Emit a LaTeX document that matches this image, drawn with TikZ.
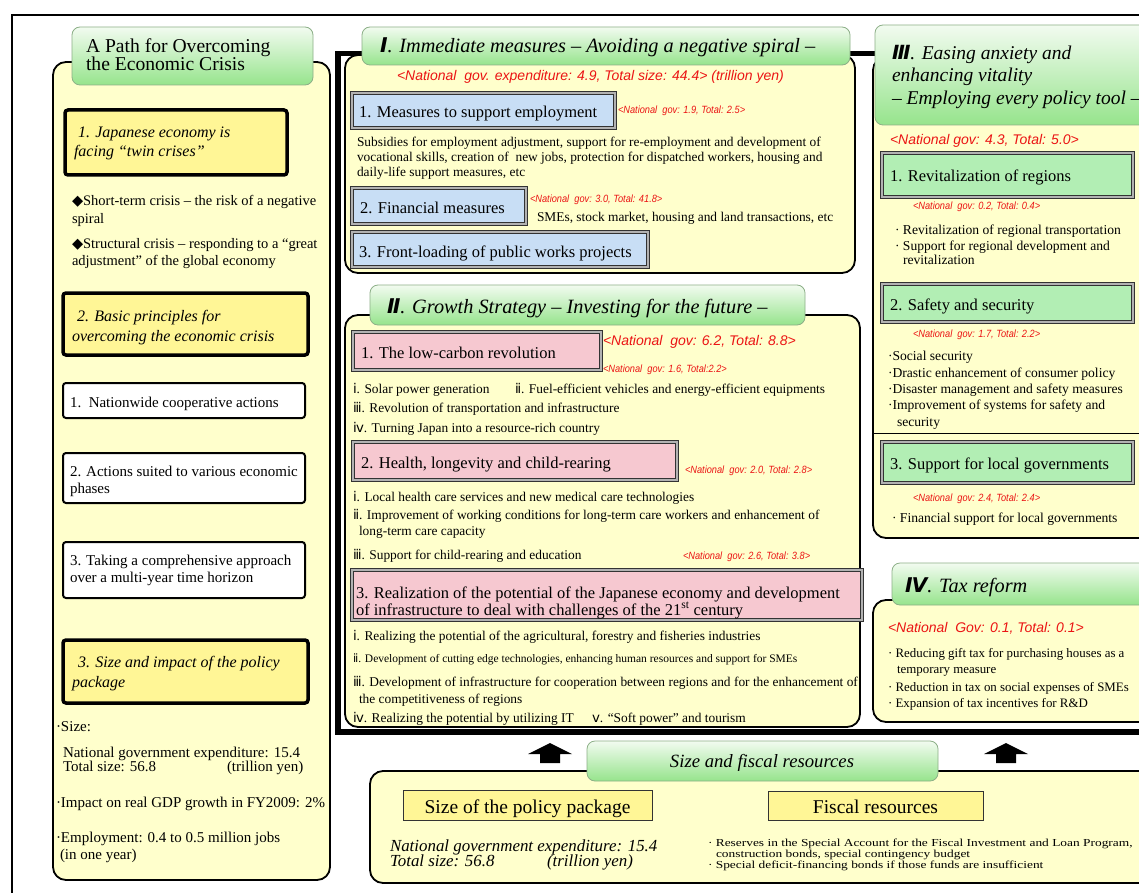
\documentclass[tikz,border=0pt]{standalone}
\usepackage{fontspec}
\usepackage{graphicx}
\setmainfont{Liberation Serif}
\newfontfamily\redfont{Liberation Sans}
\newfontfamily\djv{DejaVu Sans}
\newcommand\rsm[1]{\scalebox{0.88}[1]{#1}}
\newcommand\sqz[1]{\scalebox{1}[0.8]{#1}}
\newcommand\rmn[1]{{\djv #1}}
\newcommand\tnum[1]{{\djv\bfseries\itshape #1}}
\definecolor{redc}{RGB}{235,20,20}
\definecolor{panelc}{RGB}{255,255,204}
\definecolor{tabtop}{RGB}{242,251,240}
\definecolor{tabbot}{RGB}{150,228,140}
\definecolor{tabline}{RGB}{140,175,135}
\definecolor{yboxc}{RGB}{255,246,150}
\definecolor{bluec}{RGB}{200,222,245}
\definecolor{pinkc}{RGB}{246,200,208}
\definecolor{greenc}{RGB}{178,238,180}
\begin{document}
\begin{tikzpicture}[x=1pt,y=-1pt,
 txt/.style={anchor=base west, inner sep=0pt, outer sep=0pt},
 bodyt/.style={txt, font=\fontsize{13.4}{14}\selectfont},
 smallt/.style={txt, font=\fontsize{11.5}{13}\selectfont},
 rbodyt/.style={txt, font=\fontsize{13.6}{14}\selectfont},
 kbodyt/.style={txt, font=\fontsize{12.9}{14}\selectfont},
 labt/.style={txt, font=\fontsize{16.5}{18}\selectfont},
 ttlt/.style={txt, font=\itshape\fontsize{20.3}{22}\selectfont},
 lttl/.style={txt, font=\fontsize{19.6}{21}\selectfont},
 lyt/.style={txt, font=\itshape\fontsize{16}{18}\selectfont},
 lbt/.style={txt, font=\fontsize{14.5}{16}\selectfont},
 lwt/.style={txt, font=\fontsize{15}{16}\selectfont},
 redbig/.style={txt, text=redc, font=\redfont\itshape\fontsize{14}{16}\selectfont},
 redsmall/.style={txt, text=redc, font=\redfont\itshape\fontsize{10.5}{12}\selectfont},
 panel/.style={draw=black, line width=1.8pt, fill=panelc, rounded corners=13pt},
 tabs/.style={draw=tabline, line width=0.8pt, top color=tabtop, bottom color=tabbot, rounded corners=8pt},
 ybx/.style={draw=black, line width=3.5pt, fill=yboxc, rounded corners=3pt},
 wbx/.style={draw=black, line width=2pt, fill=white, rounded corners=3pt},
 dbl/.style={draw=black!80, line width=1.1pt, double=white!70!black, double distance=1.3pt},
 bbx/.style={dbl, fill=bluec},
 pbx/.style={dbl, fill=pinkc},
 gbx/.style={dbl, fill=greenc},
 sbx/.style={draw=black!80, line width=1pt, fill=yboxc},
 uparrow/.style={fill=black}
]
\useasboundingbox (0,0) rectangle (1139,893);
\clip (0,0) rectangle (1139,893);
\fill[white] (0,0) rectangle (1139,893);
% outer frame
\draw[line width=1.3pt] (12,15) rectangle (1180,930);
% thick frame
\draw[line width=5.5pt] (1180,53.5) -- (338,53.5) -- (338,732) -- (1180,732);

% ---------------- left column ----------------
\draw[panel] (53,62) rectangle (330,880);
\path[tabs] (72,27) rectangle (313,85);
\node[lttl] (lt1) at (86,53) {A Path for Overcoming};
\node[lttl] (lt2) at (86,71) {the Economic Crisis};

\draw[ybx] (65,110) rectangle (287,175);
\node[lyt] (ly1a) at (78,138) {1. Japanese economy is};
\node[lyt] (ly1b) at (74,157) {facing “twin crises”};

\node[lbt] (lb1a) at (72,206) {{\djv ◆}Short-term crisis – the risk of a negative};
\node[lbt] (lb1b) at (72,223) {spiral};
\node[lbt] (lb2a) at (72,248) {{\djv ◆}Structural crisis – responding to a “great};
\node[lbt] (lb2b) at (72,265) {adjustment” of the global economy};

\draw[ybx] (63,293) rectangle (308,355);
\node[lyt] (ly2a) at (77,321) {2. Basic principles for};
\node[lyt] (ly2b) at (72,341) {overcoming the economic crisis};

\draw[wbx] (63,383) rectangle (305,418);
\node[lwt] (lw1) at (70,407) {1.\ \ Nationwide cooperative actions};
\draw[wbx] (63,453) rectangle (305,503);
\node[lwt] (lw2a) at (70,476) {2. Actions suited to various economic};
\node[lwt] (lw2b) at (70,493) {phases};
\draw[wbx] (63,542) rectangle (305,598);
\node[lwt] (lw3a) at (70,565) {3. Taking a comprehensive approach};
\node[lwt] (lw3b) at (70,582) {over a multi-year time horizon};

\draw[ybx] (63,640) rectangle (308,703);
\node[lyt] (ly3a) at (78,667) {3. Size and impact of the policy};
\node[lyt] (ly3b) at (72,687) {package};

\node[lwt] (ls1) at (56,731) {·Size:};
\node[lwt] (ls2) at (63,757) {National government expenditure: 15.4};
\node[lwt] (ls3) at (63,771) {Total size: 56.8};
\node[lwt] (ls4) at (227,771) {(trillion yen)};
\node[lwt] (ls5) at (56,807) {·Impact on real GDP growth in FY2009: 2\%};
\node[lwt] (ls6) at (56,842) {·Employment: 0.4 to 0.5 million jobs};
\node[lwt] (ls7) at (60,859) {(in one year)};

% ---------------- I ----------------
\draw[panel] (345,55) rectangle (855,273);
\path[tabs] (362,27) rectangle (850,65);
\node[ttlt] (t1) at (380,53) {\tnum{Ⅰ}. Immediate measures – Avoiding a negative spiral –};
\node[redbig] (r1) at (397,81) {<National\ \ gov. expenditure: 4.9, Total size: 44.4> (trillion yen)};
\draw[bbx] (352,93) rectangle (615,128);
\node[labt] (b1) at (359,118) {1. Measures to support employment};
\node[redsmall] (r11) at (618,114) {\rsm{<National\ \ gov: 1.9, Total: 2.5>}};
\node[bodyt] (p1a) at (357,147) {Subsidies for employment adjustment, support for re-employment and development of};
\node[bodyt] (p1b) at (357,162) {vocational skills, creation of\ \ new jobs, protection for dispatched workers, housing and};
\node[bodyt] (p1c) at (357,177) {daily-life support measures, etc};
\draw[bbx] (352,188) rectangle (526,224);
\node[labt] (b2) at (360,214) {2. Financial measures};
\node[redsmall] (r12) at (530,203) {\rsm{<National\ \ gov: 3.0, Total: 41.8>}};
\node[bodyt] (p2) at (537,222) {SMEs, stock market, housing and land transactions, etc};
\draw[bbx] (352,232) rectangle (648,267);
\node[labt] (b3) at (359,257) {3. Front-loading of public works projects};

% ---------------- II ----------------
\draw[panel] (345,315) rectangle (860,727);
\path[tabs] (370,285) rectangle (805,325);
\node[ttlt] (t2) at (387,313) {\tnum{Ⅱ}. Growth Strategy – Investing for the future –};
\draw[pbx] (353,332) rectangle (601,370);
\node[labt] (g1) at (361,358) {1. The low-carbon revolution};
\node[redbig] (r2) at (603,345) {<National\ \ gov: 6.2, Total: 8.8>};
\node[redsmall] (r21) at (603,372) {\rsm{<National\ \ gov: 1.6, Total:2.2>}};
\node[bodyt] (i11) at (353,393) {\rmn{ⅰ}. Solar power generation};
\node[bodyt] (i12) at (515,393) {\rmn{ⅱ}. Fuel-efficient vehicles and energy-efficient equipments};
\node[bodyt] (i13) at (353,412) {\rmn{ⅲ}. Revolution of transportation and infrastructure};
\node[bodyt] (i14) at (353,432) {\rmn{ⅳ}. Turning Japan into a resource-rich country};
\draw[pbx] (353,442) rectangle (677,480);
\node[labt] (g2) at (361,468) {2. Health, longevity and child-rearing};
\node[redsmall] (r22) at (685,473) {\rsm{<National\ \ gov: 2.0, Total: 2.8>}};
\node[bodyt] (i21) at (353,501) {\rmn{ⅰ}. Local health care services and new medical care technologies};
\node[bodyt] (i22) at (353,519) {\rmn{ⅱ}. Improvement of working conditions for long-term care workers and enhancement of};
\node[bodyt] (i22b) at (359,535) {long-term care capacity};
\node[bodyt] (i23) at (353,559) {\rmn{ⅲ}. Support for child-rearing and education};
\node[redsmall] (r23) at (683,559) {\rsm{<National\ \ gov: 2.6, Total: 3.8>}};
\draw[pbx] (352,570) rectangle (862,620);
\node[labt] (g3a) at (356,598) {3. Realization of the potential of the Japanese economy and development};
\node[labt] (g3b) at (356,615) {of infrastructure to deal with challenges of the 21\textsuperscript{st} century};
\node[bodyt] (i31) at (353,640) {\rmn{ⅰ}. Realizing the potential of the agricultural, forestry and fisheries industries};
\node[smallt] (i32) at (353,662) {\rmn{ⅱ}. Development of cutting edge technologies, enhancing human resources and support for SMEs};
\node[bodyt] (i33) at (353,686) {\rmn{ⅲ}. Development of infrastructure for cooperation between regions and for the enhancement of};
\node[bodyt] (i33b) at (359,703) {the competitiveness of regions};
\node[bodyt] (i34) at (353,722) {\rmn{ⅳ}. Realizing the potential by utilizing IT};
\node[bodyt] (i35) at (592,722) {\rmn{ⅴ}. “Soft power” and tourism};

% ---------------- III ----------------
\draw[panel] (873,57) rectangle (1170,538);
\path[tabs] (875,25) rectangle (1170,125);
\node[txt, font=\itshape\fontsize{19.5}{21}\selectfont] (t3a) at (892,60) {\tnum{Ⅲ}. Easing anxiety and};
\node[txt, font=\itshape\fontsize{19.5}{21}\selectfont] (t3b) at (892,82) {enhancing vitality};
\node[txt, font=\itshape\fontsize{19.5}{21}\selectfont] (t3c) at (892,105) {– Employing every policy tool –};
\node[redbig] (r3) at (890,145) {<National gov: 4.3, Total: 5.0>};
\draw[gbx] (882,153) rectangle (1133,197);
\node[labt] (h1) at (890,182) {1. Revitalization of regions};
\node[redsmall] (r31) at (913,210) {\rsm{<National\ \ gov: 0.2, Total: 0.4>}};
\node[rbodyt] (j11) at (895,235) {· Revitalization of regional transportation};
\node[rbodyt] (j12) at (895,250) {· Support for regional development and};
\node[rbodyt] (j13) at (903,264) {revitalization};
\draw[gbx] (882,284) rectangle (1133,322);
\node[labt] (h2) at (890,310) {2. Safety and security};
\node[redsmall] (r32) at (913,337) {\rsm{<National\ \ gov: 1.7, Total: 2.2>}};
\node[rbodyt] (j21) at (888,360) {·Social security};
\node[rbodyt] (j22) at (888,377) {·Drastic enhancement of consumer policy};
\node[rbodyt] (j23) at (888,393) {·Disaster management and safety measures};
\node[rbodyt] (j24) at (888,409) {·Improvement of systems for safety and};
\node[rbodyt] (j25) at (897,426) {security};
\draw[line width=1pt] (873,433) -- (1170,433);
\draw[gbx] (882,442) rectangle (1133,483);
\node[labt] (h3) at (890,469) {3. Support for local governments};
\node[redsmall] (r33) at (913,501) {\rsm{<National\ \ gov: 2.4, Total: 2.4>}};
\node[rbodyt] (j31) at (892,522) {· Financial support for local governments};

% ---------------- IV ----------------
\draw[panel] (873,600) rectangle (1170,722);
\path[tabs] (892,563) rectangle (1170,605);
\node[ttlt] (t4) at (905,592) {\tnum{Ⅳ}. Tax reform};
\node[redbig] (r4) at (888,632) {<National\ \ Gov: 0.1, Total: 0.1>};
\node[kbodyt] (k1) at (888,657) {· Reducing gift tax for purchasing houses as a};
\node[kbodyt] (k2) at (897,673) {temporary measure};
\node[kbodyt] (k3) at (888,691) {· Reduction in tax on social expenses of SMEs};
\node[kbodyt] (k4) at (888,707) {· Expansion of tax incentives for R\&D};

% ---------------- bottom ----------------
\fill[uparrow] (528,754) -- (550,743) -- (572,754) -- (560,754) -- (560,763) -- (540,763) -- (540,754) -- cycle;
\fill[uparrow] (984,754) -- (1006,743) -- (1028,754) -- (1016,754) -- (1016,763) -- (996,763) -- (996,754) -- cycle;
\draw[panel] (370,771) rectangle (1170,883);
\path[tabs] (587,741) rectangle (938,781);
\node[anchor=base, inner sep=0pt, font=\itshape\fontsize{18.7}{20}\selectfont] (t5) at (762,767) {Size and fiscal resources};
\draw[sbx] (403,790) rectangle (652,820);
\node[anchor=base, inner sep=0pt, font=\fontsize{19.5}{21}\selectfont] (s1) at (527.5,813) {Size of the policy package};
\draw[sbx] (768,791) rectangle (983,820);
\node[anchor=base, inner sep=0pt, font=\fontsize{19.5}{21}\selectfont] (s2) at (875.5,813) {Fiscal resources};
\node[txt, font=\itshape\fontsize{16.9}{18}\selectfont] (s3) at (390,851) {National government expenditure: 15.4};
\node[txt, font=\itshape\fontsize{16.9}{18}\selectfont] (s4) at (390,866) {Total size: 56.8};
\node[txt, font=\itshape\fontsize{16.9}{18}\selectfont] (s5) at (547,866) {(trillion yen)};
\node[bodyt] (f1) at (708,846) {\sqz{· Reserves in the Special Account for the Fiscal Investment and Loan Program,}};
\node[bodyt] (f2) at (716,857) {\sqz{construction bonds, special contingency budget}};
\node[bodyt] (f3) at (708,868) {\sqz{· Special deficit-financing bonds if those funds are insufficient}};
\end{tikzpicture}
\end{document}
